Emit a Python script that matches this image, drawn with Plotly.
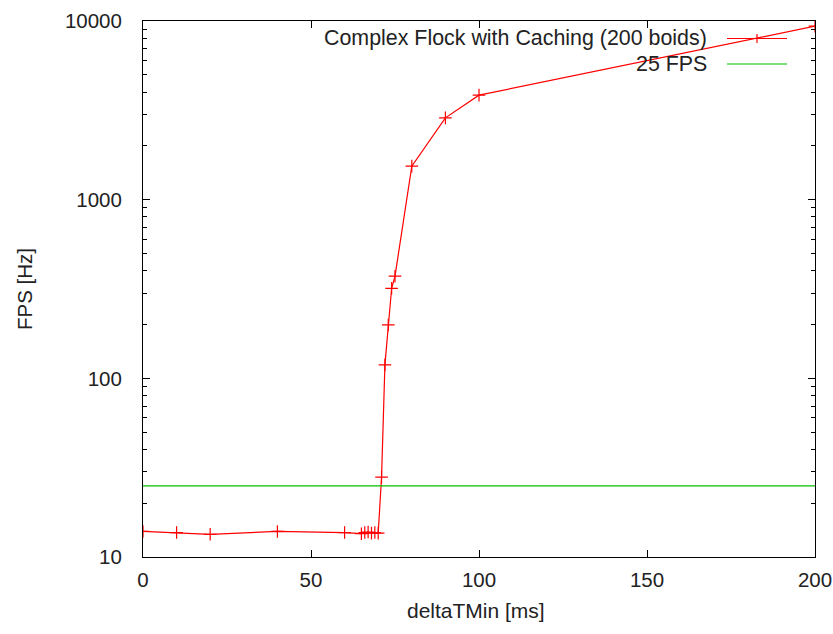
import plotly.graph_objects as go

delta_t_min = [0, 10, 20, 40, 60, 65, 66, 67, 68, 69, 70, 71, 72, 73, 74, 75, 80, 90, 100, 200]
fps = [13.9, 13.7, 13.4, 13.9, 13.7, 13.5, 13.7, 13.8, 13.6, 13.7, 13.6, 28, 119, 199, 319, 373, 1541, 2871, 3846, 9350]
threshold_fps = 25
x_range = [0, 200]
series_name = "Complex Flock with Caching (200 boids)"
threshold_name = "25 FPS"

RED = "#ff0000"
GREEN = "#00c000"
FONT = "Liberation Sans, Arial, sans-serif"
TXT = "#222222"

fig = go.Figure()
fig.add_trace(go.Scatter(
    x=delta_t_min, y=fps, mode="lines+markers",
    line=dict(color=RED, width=1.2),
    marker=dict(symbol="cross-thin", size=9, line=dict(color=RED, width=1.2)),
    showlegend=False,
))
fig.add_trace(go.Scatter(
    x=x_range, y=[threshold_fps, threshold_fps], mode="lines",
    line=dict(color=GREEN, width=1.2), showlegend=False,
))

W, H = 833, 634
L, R, T, B = 143, 18, 21, 77
fig.update_layout(
    width=W, height=H,
    margin=dict(l=L, r=R, t=T, b=B, autoexpand=False),
    paper_bgcolor="white", plot_bgcolor="white",
    font=dict(family=FONT, size=20, color=TXT),
    showlegend=False,
)
fig.update_xaxes(
    range=x_range, tickvals=[0, 50, 100, 150, 200],
    showline=True, linecolor="black", linewidth=1, mirror="ticks",
    ticks="inside", ticklen=7, tickcolor="black",
    showgrid=False, zeroline=False, automargin=False,
    tickfont=dict(family=FONT, size=20.5, color=TXT),
    ticklabelstandoff=4,
)
fig.update_yaxes(
    type="log", range=[1, 4], tickvals=[10, 100, 1000, 10000],
    ticktext=["10", "100", "1000", "10000"],
    showline=True, linecolor="black", linewidth=1, mirror="ticks",
    ticks="inside", ticklen=7, tickcolor="black",
    minor=dict(ticks="inside", ticklen=4, tickcolor="black", dtick="D1", showgrid=False),
    showgrid=False, zeroline=False, automargin=False,
    tickfont=dict(family=FONT, size=20.5, color=TXT),
    ticklabelstandoff=16,
)

pw = W - L - R
ph = H - T - B
def px(xp):
    return (xp - L) / pw
def py(yp):
    return (H - B - yp) / ph

annotations = [
    dict(text="deltaTMin [ms]", x=px(476), y=py(610), xref="paper", yref="paper",
         showarrow=False, xanchor="center", yanchor="middle", font=dict(size=21, color=TXT)),
    dict(text="FPS [Hz]", x=px(24), y=py(289), xref="paper", yref="paper",
         showarrow=False, xanchor="center", yanchor="middle", textangle=-90, font=dict(size=20.5, color=TXT)),
    dict(text=series_name, x=px(709), y=py(38), xref="paper", yref="paper",
         showarrow=False, xanchor="right", yanchor="middle", font=dict(size=21.4, color=TXT)),
    dict(text=threshold_name, x=px(709), y=py(64), xref="paper", yref="paper",
         showarrow=False, xanchor="right", yanchor="middle", font=dict(size=21.4, color=TXT)),
]
shapes = [
    dict(type="line", xref="paper", yref="paper", x0=px(727), x1=px(787), y0=py(38.5), y1=py(38.5),
         line=dict(color=RED, width=1.2)),
    dict(type="line", xref="paper", yref="paper", x0=px(757), x1=px(757), y0=py(34), y1=py(43),
         line=dict(color=RED, width=1.2)),
    dict(type="line", xref="paper", yref="paper", x0=px(727), x1=px(787), y0=py(64), y1=py(64),
         line=dict(color=GREEN, width=1.2)),
]
fig.update_layout(annotations=annotations, shapes=shapes)

fig.write_html("out.html")
